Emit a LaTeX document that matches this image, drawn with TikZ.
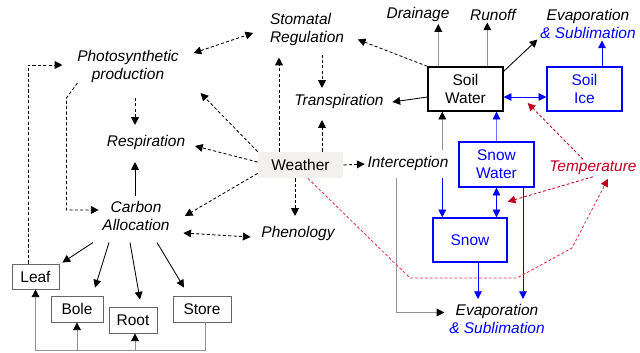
\documentclass[tikz,border=0pt]{standalone}
\usepackage{fontspec}
\setmainfont{Liberation Sans}
\usetikzlibrary{arrows.meta,calc}
\definecolor{tempred}{RGB}{192,0,32}
\definecolor{linered}{RGB}{238,45,75}
\definecolor{wgray}{RGB}{242,241,238}

\begin{document}
\begin{tikzpicture}[x=0.025cm,y=-0.025cm,line width=0.6pt,
    >={Triangle[length=5.5pt,width=5.5pt]},font=\fontsize{11}{12.8}\selectfont]
    \tikzstyle{lab}=[font=\fontsize{11}{12.8}\selectfont\itshape,align=center,inner sep=1pt]
    \tikzstyle{bx}=[draw=gray!80!black,inner sep=0pt,minimum height=0.65cm]
    \tikzstyle{wbx}=[draw,line width=1pt,align=center,inner sep=0pt,minimum width=1.875cm,minimum height=1.1cm]
    \tikzstyle{bbx}=[wbx,draw=blue,text=blue]
    \tikzstyle{da}=[->,dash pattern=on 2.2pt off 1.6pt]
    \tikzstyle{dda}=[<->,dash pattern=on 2.2pt off 1.6pt]
    \tikzstyle{ga}=[draw=gray!85,-{Triangle[length=5.5pt,width=5.5pt,color=black]}]
    \tikzstyle{ba}=[->,blue]
    \tikzstyle{ra}=[->,tempred,dash pattern=on 2pt off 1.5pt]
    \useasboundingbox (0,0) rectangle (640,353);
    \node[lab] at (128,67) (ph) {Photosynthetic\\production};
    \node[lab,align=left] at (307,29.5) (st) {Stomatal\\Regulation};
    \node[lab] at (418,15) (drain) {Drainage};
    \node[lab] at (493,15) (run) {Runoff};
    \node[lab] at (588,24) (evt) {Evaporation\\\textcolor{blue}{\& Sublimation}};
    \node[wbx] at (465.5,89) (sw) {Soil\\Water};
    \node[bbx] at (584.5,89) (si) {Soil\\Ice};
    \node[lab] at (339,102) (tr) {Transpiration};
    \node[lab] at (146,143) (resp) {Respiration};
    \node[fill=wgray,inner sep=0pt,minimum width=2.125cm,minimum height=0.65cm] at (300.5,165) (wea) {Weather};
    \node[lab] at (408,164) (int) {Interception};
    \node[bbx,minimum height=1.125cm] at (496.5,164.5) (snw) {Snow\\Water};
    \node[lab,text=tempred] at (593,168) (temp) {Temperature};
    \node[lab] at (136,216) (ca) {Carbon\\Allocation};
    \node[lab] at (298,234) (phen) {Phenology};
    \node[bbx,minimum width=1.85cm] at (470,240) (snow) {Snow};
    \node[lab] at (497,318.5) (evb) {Evaporation\\\textcolor{blue}{\& Sublimation}};
    \node[bx,minimum width=1.175cm,minimum height=0.625cm] at (35.5,276.5) (leaf) {Leaf};
    \node[bx,minimum width=1.3cm] at (77,309) (bole) {Bole};
    \node[bx,minimum width=1.2cm] at (133,320) (root) {Root};
    \node[bx,minimum width=1.45cm] at (202,309) (store) {Store};
    % carbon side
    \draw[dda] ($(ph.east)+(13,-14)$) -- ($(st.west)+(-15,3.5)$);
    \draw[da] ($(ph.south)+(7,13)$) -- ($(resp.north)+(-11,-9)$);
    \draw[da] (wea.north west) -- ($(ph.south east)+(20,8)$);
    \draw[da] ($(wea.west)+(0,-3)$) -- ($(resp.east)+(8,3)$);
    \draw[da] ($(wea.south west)+(0,-5)$) -- ($(ca.east)+(13.5,0)$);
    \draw[dda] ($(ca.east)+(12,17)$) -- ($(phen.west)+(-9,3)$);
    \coordinate (w1) at ($(wea.north)+(-21.5,0)$);
    \coordinate (w2) at ($(wea.north)+(21.5,0)$);
    \coordinate (w3) at ($(wea.south)+(-5.5,0)$);
    \draw[da] (w1) -- ($(w1 |- st.south)+(0,10)$);
    \draw[da] (w2) -- ($(w2 |- tr.south)+(0,9)$);
    \draw[da] ($(w2 |- st.south)+(0,7)$) -- ($(w2 |- tr.north)+(0,-5)$);
    \draw[da] (w3) -- ($(w3 |- phen.north)+(0,-9)$);
    \draw[da] (wea.east) -- ($(int.west)+(-1,0)$);
    \coordinate (c1) at ($(ca.north)+(-1,-3)$);
    \draw[->] (c1) -- ($(c1 |- resp.south)+(0,10)$);
    \draw[->] ($(ca.south)+(-43,10)$) -- ($(leaf.north east)+(3,-1)$);
    \draw[->] ($(ca.south)+(-27,10)$) -- ($(bole.north)+(18,-8)$);
    \draw[->] ($(ca.south)+(-6,10)$) -- ($(root.north)+(7,-7)$);
    \draw[->] ($(ca.south)+(21,10)$) -- ($(store.north)+(-18,-8)$);
    \draw[da] ($(leaf.north)+(-7.5,0)$) |- ($(ph.west)+(-13,-2)$);
    \draw[da] ($(ph.south west)+(2,-2)$) -- ++(-11,15) |- ($(ca.west)+(-2,-6)$);
    \coordinate (fb) at ($(store.south)+(3,28)$);
    \draw[ga] ($(store.south)+(3,0)$) -- (fb) -| (leaf.south);
    \draw[ga] (bole.south |- fb) -- (bole.south);
    \draw[ga] ($(root.south |- fb)+(2,0)$) -- ($(root.south)+(2,0)$);
    % water side
    \draw[da] (sw.north west) -- ($(st.east)+(12,10)$);
    \draw[->] ($(sw.west)+(0,8)$) -- ($(tr.east)+(7,0)$);
    \coordinate (d1) at ($(sw.north west)+(11,0)$);
    \coordinate (d2) at ($(sw.north west)+(60,0)$);
    \coordinate (d3) at ($(si.north)+(17.5,0)$);
    \coordinate (d4) at ($(sw.east)+(0,8)$);
    \draw[ga] (d1) -- (d1 |- drain.south);
    \draw[ga] (d2) -- (d2 |- run.south);
    \draw[->] ($(sw.north east)+(0,5)$) -- ($(evt.south west)+(-1,-1)$);
    \draw[ba] (d3) -- (d3 |- evt.south);
    \draw[blue,<->] (d4) -- (d4 -| si.west);
    \draw[ra] ($(temp.north)+(-10,0)$) -- ($(sw.east)+(24,14)$);
    \draw[ra] (temp.south) -- ($(snw.south east)+(-27,14)$);
    \coordinate (i1) at ($(sw.south west)+(15,0)$);
    \draw[ga] ($(i1 |- int.north)+(0,-5)$) -- (i1);
    \draw[ba] ($(i1 |- int.south)+(0,5)$) -- (i1 |- snow.north);
    \draw[draw=blue!55,-{Triangle[length=5.5pt,width=5.5pt,color=blue]}] (snw.north) -- (snw.north |- sw.south);
    \draw[blue,<->] (snw.south) -- (snw.south |- snow.north);
    \coordinate (s1) at ($(snw.south)+(26.5,0)$);
    \coordinate (s2) at ($(snow.south)+(8,0)$);
    \draw[ba] (s1) -- ($(s1 |- evb.north)+(0,-3)$);
    \draw[ba] (s2) -- ($(s2 |- evb.north)+(0,-3)$);
    \draw[ga] ($(int.south)+(-12,5)$) |- ($(evb.west)+(-3,-6)$);
    \draw[linered,dash pattern=on 2pt off 1.5pt,-{Triangle[length=5.5pt,width=5.5pt,color=tempred]}]
      ($(wea.south)+(7.5,0)$) -- (410,278) -- (517,278) -- (572,248) -- ($(temp.south)+(15,2)$);
\end{tikzpicture}
\end{document}
